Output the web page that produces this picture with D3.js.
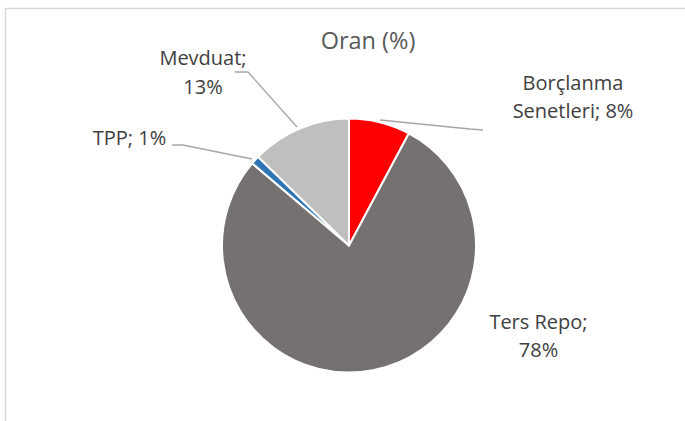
<!DOCTYPE html>
<html><head><meta charset="utf-8">
<script src="https://cdn.jsdelivr.net/npm/d3@7"></script>
<style>html,body{margin:0;padding:0;background:#fff;}svg{display:block;}</style>
</head><body>
<svg id="c" width="685" height="421"></svg>
<script>
const categories = ["Borçlanma Senetleri", "Ters Repo", "TPP", "Mevduat"];
const values = [7.8, 78.4, 1.1, 12.7];
const labelLines = [["Borçlanma", "Senetleri; 8%"], ["Ters Repo;", "78%"], ["TPP; 1%"], ["Mevduat;", "13%"]];
const colors = ["#ff0000", "#767171", "#2e75b6", "#bfbfbf"];
const title = "Oran (%)";

const svg = d3.select("#c");
const font = "'Open Sans', sans-serif";

// chart frame
svg.append("rect").attr("x", 5.5).attr("y", 8.5).attr("width", 700).attr("height", 430)
  .attr("fill", "#fff").attr("stroke", "#d9d9d9").attr("stroke-width", 1.5);

svg.append("text").attr("x", 368).attr("y", 48.5).attr("text-anchor", "middle")
  .attr("font-family", font).attr("font-size", 23.5).attr("fill", "#595959").text(title);

const cx = 349, cy = 245.5, r = 127;
const data = categories.map((c, i) => ({cat: c, value: values[i], color: colors[i], lines: labelLines[i]}));
const pie = d3.pie().value(d => d.value).sort(null);
const arc = d3.arc().innerRadius(0).outerRadius(r);
const arcs = pie(data);

const g = svg.append("g").attr("transform", `translate(${cx},${cy})`);
g.selectAll("path").data(arcs).join("path")
  .attr("d", arc).attr("fill", d => d.data.color)
  .attr("stroke", "#fff").attr("stroke-width", 2).attr("stroke-linejoin", "round");

// label positions (centre x, first baseline) and leader lines
const labelPos = {
  "Borçlanma Senetleri": {x: 573, y: 89.5, leader: [[380,120],[470,129],[483,130]]},
  "Ters Repo": {x: 538.5, y: 328.5, leader: null},
  "TPP": {x: 129.5, y: 145, leader: [[172,145],[183,145],[252,159]]},
  "Mevduat": {x: 203, y: 65, leader: [[235,72],[248,72],[297,127]]}
};
const lh = 28.5;
data.forEach(d => {
  const p = labelPos[d.cat];
  if (p.leader) {
    svg.append("path").attr("d", d3.line()(p.leader)).attr("fill", "none")
      .attr("stroke", "#a6a6a6").attr("stroke-width", 1.3);
  }
  const t = svg.append("text").attr("text-anchor", "middle")
    .attr("font-family", font).attr("font-size", 20).attr("fill", "#404040");
  d.lines.forEach((ln, i) => {
    t.append("tspan").attr("x", p.x).attr("y", p.y + i * lh).text(ln);
  });
});
</script>
</body></html>
